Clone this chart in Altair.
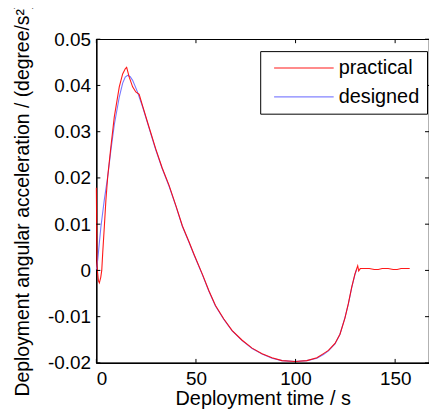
import altair as alt
import pandas as pd

# ---- data ----
designed_t = [0, 0.7, 1.5, 2.3, 4, 5.7, 7.3, 9, 11.5, 13.2, 14.5, 15.7, 17, 18.2, 19.5, 20.7,
              23.2, 26.5, 29.8, 33, 36.5, 40, 43.2, 46.5, 49, 53.2, 56.5, 59.8, 64, 68.2, 73.2,
              78.2, 83.2, 88.2, 93.2, 99.8, 105.7, 110.7, 114, 116.5, 119.8, 122.3, 124.8,
              126.5, 128.2, 129.8, 130.7]
designed_v = [0.0002, 0.0024, 0.006, 0.0095, 0.0153, 0.0203, 0.026, 0.0315, 0.0375, 0.0405,
              0.0418, 0.0422, 0.0419, 0.0411, 0.0398, 0.0385, 0.0354, 0.0307, 0.0261, 0.0221,
              0.0182, 0.0138, 0.0095, 0.0061, 0.0034, -0.0009, -0.0045, -0.0077, -0.0106,
              -0.0131, -0.0152, -0.0169, -0.0181, -0.019, -0.0195, -0.0197, -0.0195, -0.019,
              -0.0182, -0.0174, -0.0159, -0.0138, -0.0102, -0.0073, -0.0037, -0.0009, 0.0002]

practical_t = [0, 0.3, 1.0, 1.5, 2.2, 2.7, 3.2, 4, 4.8, 5.7, 7.3, 9, 11.5, 13.2, 14.5, 15.2,
               16.5, 18.2, 19.8, 21.5, 23.2, 26.5, 29.8, 33, 36.5, 40, 43.2, 46.5, 49, 53.2,
               56.5, 59.8, 64, 68.2, 73.2, 78.2, 83.2, 88.2, 93.2, 99.8, 105.7, 110.7, 114,
               116.5, 119.8, 122.3, 124.8, 126.5, 128.2, 129.8, 130.7, 131.2, 131.7, 132.5,
               134, 137, 139.5, 141.5, 143.5, 146.5, 149, 151, 153, 155.7, 157.3]
practical_v = [0.0179, 0.001, -0.0022, -0.0027, -0.0015, 0.0, 0.0039, 0.0095, 0.0153, 0.0203,
               0.0268, 0.0332, 0.0397, 0.0425, 0.0436, 0.0439, 0.0418, 0.0397, 0.0386, 0.0381,
               0.0356, 0.0309, 0.0263, 0.0222, 0.0184, 0.0139, 0.0096, 0.0062, 0.0035, -0.0008,
               -0.0044, -0.0076, -0.0105, -0.0130, -0.0151, -0.0168, -0.0180, -0.0189, -0.0195,
               -0.0197, -0.0195, -0.0189, -0.0180, -0.0173, -0.0158, -0.0138, -0.0103, -0.0072,
               -0.0036, -0.0008, 0.0004, 0.001, -0.0001, 0.0004, 0.0004, 0.0004, 0.0002, 0.0002,
               0.0004, 0.0004, 0.0002, 0.0002, 0.0004, 0.0004, 0.0004]

x_ticks = [0, 50, 100, 150]
y_ticks = [-0.02, -0.01, 0, 0.01, 0.02, 0.03, 0.04, 0.05]
series_names = ["practical", "designed"]
series_colors = ["#ff0000", "#7777ff"]

W, H = 335, 326
FONT = "Liberation Sans"

df_d = pd.DataFrame({"t": designed_t, "v": designed_v, "series": "designed"})
df_p = pd.DataFrame({"t": practical_t, "v": practical_v, "series": "practical"})
df_xt = pd.DataFrame({"t": x_ticks})
df_yt = pd.DataFrame({"v": y_ticks})

xscale = alt.Scale(domain=[0, 167], nice=False, zero=False)
yscale = alt.Scale(domain=[-0.02, 0.05], nice=False, zero=False)
cscale = alt.Scale(domain=series_names, range=series_colors)

xaxis = alt.Axis(values=x_ticks, title="Deployment time / s", grid=False, ticks=False,
                 labelPadding=7, titleY=42, titleBaseline="alphabetic",
                 domainColor="black", labelFontSize=19, titleFontSize=20)
ylabel_expr = ("datum.value == 0 ? '0' : (datum.value < 0 ? '-' : '') + "
               "format(abs(datum.value), '.2f')")
yaxis = alt.Axis(values=y_ticks, title="Deployment angular acceleration / (degree/s²)",
                 grid=False, ticks=False, labelPadding=6, labelExpr=ylabel_expr,
                 titleX=-68, titleY=161, titleBaseline="alphabetic", titleAngle=270,
                 domainColor="black", labelFontSize=19, titleFontSize=19.5)

legend = alt.Legend(title=None, orient="none", legendX=165, legendY=12,
                    fillColor="white", strokeColor="black", padding=7,
                    symbolType="M-0.6,0H11.4", symbolSize=100, symbolStrokeWidth=1.2,
                    labelFontSize=20, labelOffset=52, rowPadding=9, labelFont=FONT)

line_d = alt.Chart(df_d).mark_line(strokeWidth=1.1, interpolate="linear").encode(
    x=alt.X("t:Q", scale=xscale, axis=xaxis),
    y=alt.Y("v:Q", scale=yscale, axis=yaxis),
    color=alt.Color("series:N", scale=cscale, legend=legend),
)
line_p = alt.Chart(df_p).mark_line(strokeWidth=1.1, interpolate="linear", opacity=0.9).encode(
    x=alt.X("t:Q", scale=xscale),
    y=alt.Y("v:Q", scale=yscale),
    color=alt.Color("series:N", scale=cscale, legend=legend),
)

tick_len = 4
tb = alt.Chart(df_xt).mark_rule(color="black").encode(
    x=alt.X("t:Q", scale=xscale), y=alt.value(H), y2=alt.value(H - tick_len))
tt = alt.Chart(df_xt).mark_rule(color="black").encode(
    x=alt.X("t:Q", scale=xscale), y=alt.value(0), y2=alt.value(tick_len))
tl = alt.Chart(df_yt).mark_rule(color="black").encode(
    y=alt.Y("v:Q", scale=yscale), x=alt.value(0), x2=alt.value(tick_len))
tr = alt.Chart(df_yt).mark_rule(color="black").encode(
    y=alt.Y("v:Q", scale=yscale), x=alt.value(W), x2=alt.value(W - tick_len))

chart = alt.layer(line_d, line_p, tb, tt, tl, tr).properties(
    width=W, height=H,
    autosize=alt.AutoSizeParams(type="none"),
    padding={"left": 89, "top": 30, "right": 0, "bottom": 46},
    background="white",
).configure_view(stroke="black", strokeWidth=1.2).configure_axis(
    labelFont=FONT, titleFont=FONT, labelColor="black", titleColor="black",
    titleFontWeight="normal", domainWidth=1.2,
).configure_legend(labelFont=FONT, labelColor="black")

chart.save("out.html", embed_options={"renderer": "svg", "actions": False})
